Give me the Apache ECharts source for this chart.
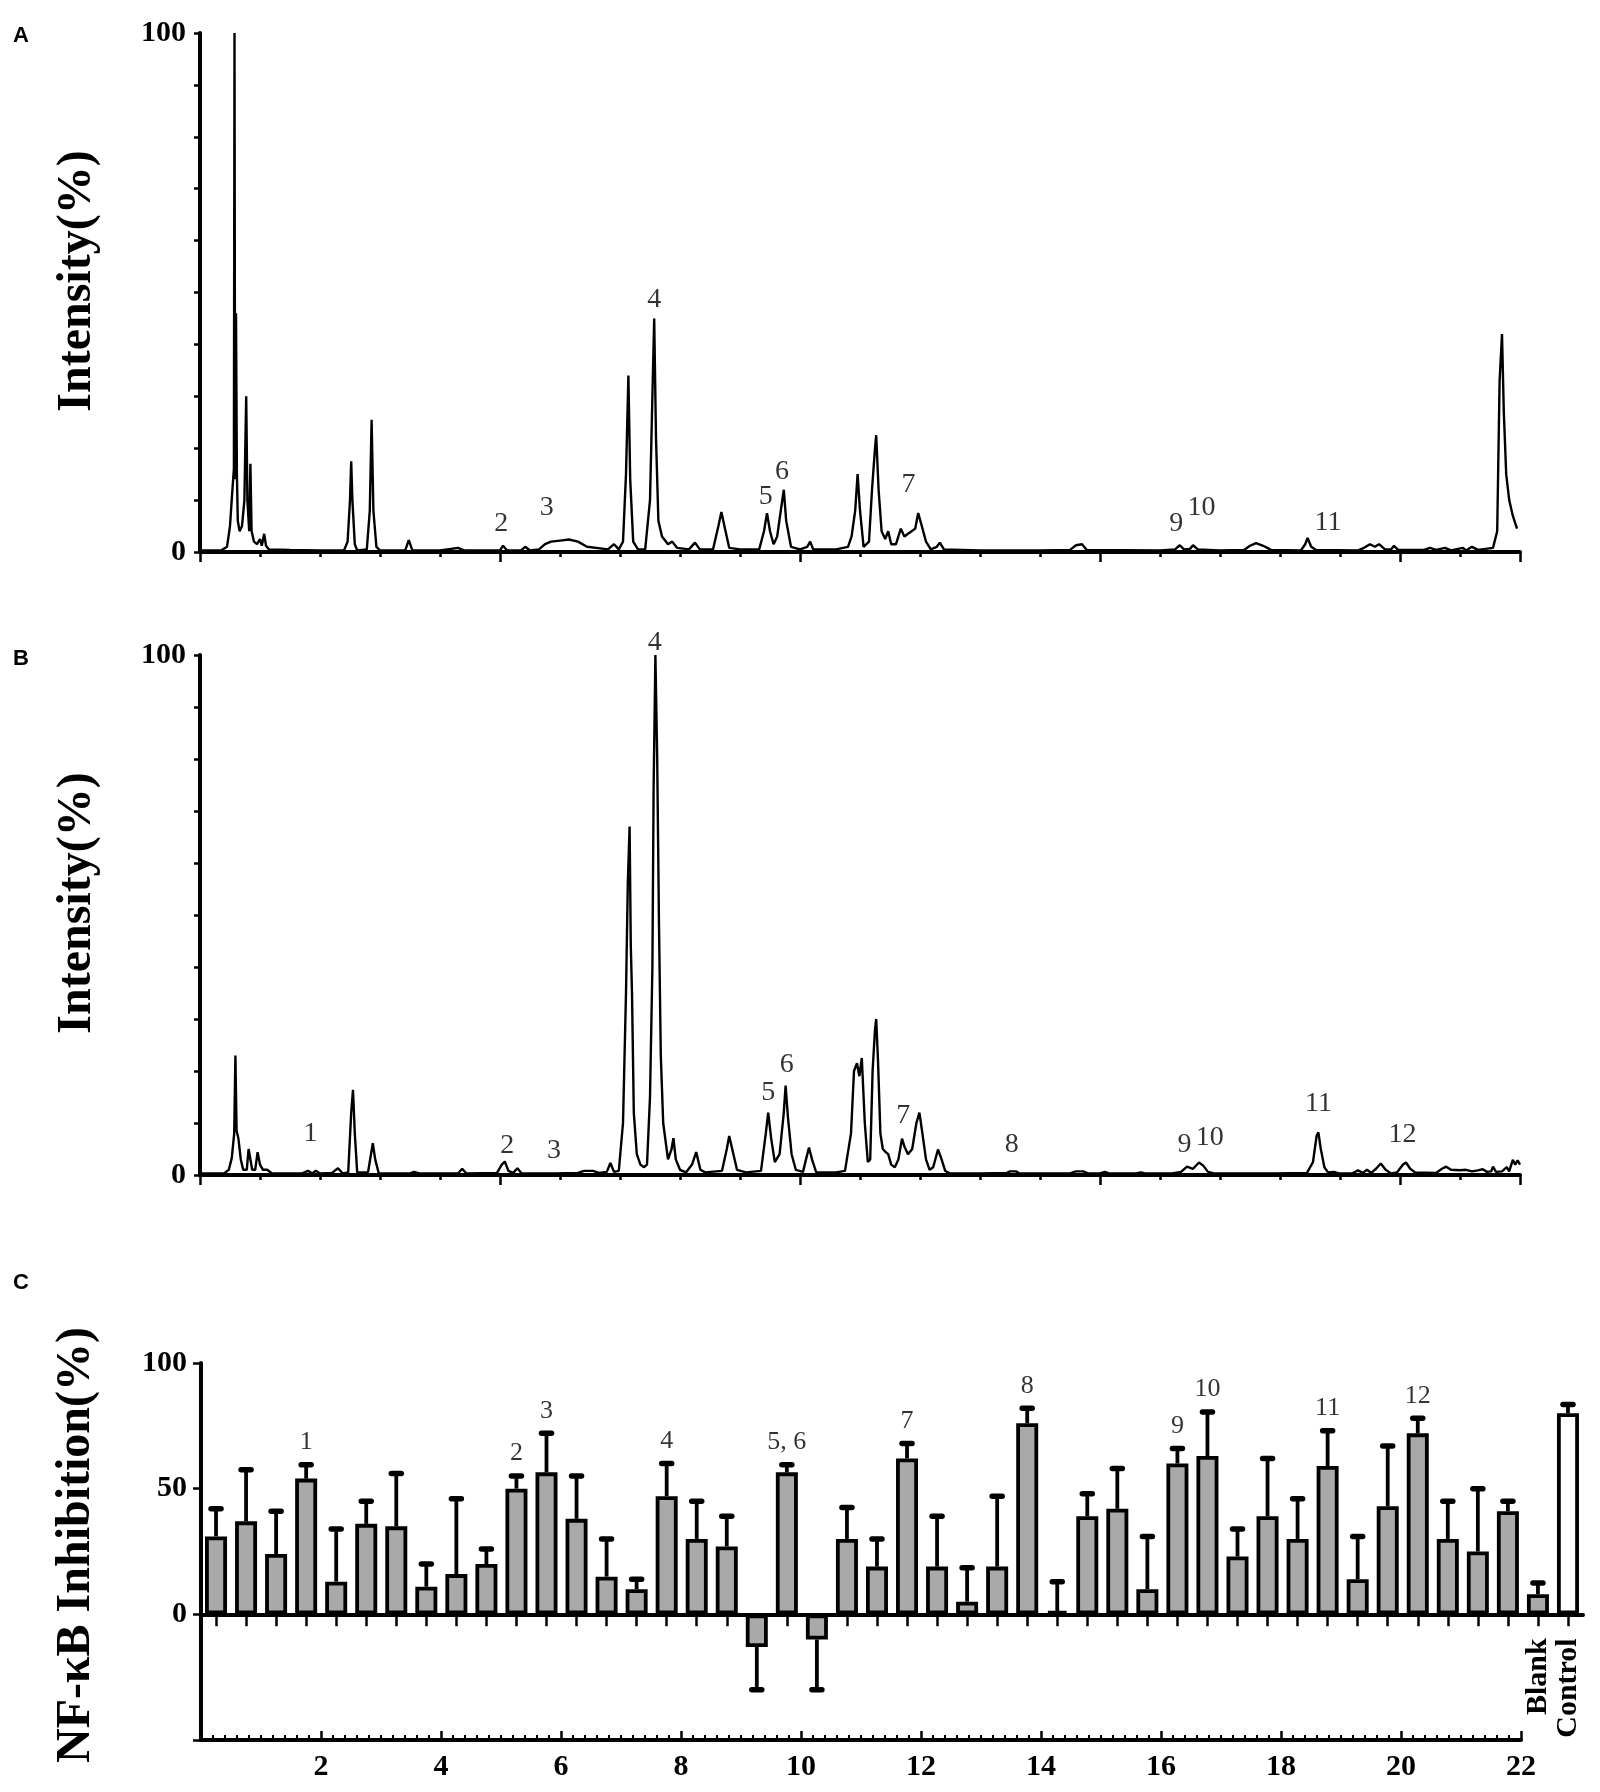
<!DOCTYPE html>
<html>
<head>
<meta charset="utf-8">
<script src="https://cdn.jsdelivr.net/npm/echarts@6/dist/echarts.min.js"></script>
<style>
html,body{margin:0;padding:0;background:#fff;}
#chart{width:1600px;height:1792px;}
</style>
</head>
<body>
<div id="chart"></div>
<script>
// ---------- Panel A chromatogram: [time (min), intensity (%)] ----------
var traceA = [[0,0.3],[0.35,0.3],[0.45,1],[0.5,5],[0.54,12],[0.565,16],[0.575,100],[0.585,14],[0.6,46],[0.615,15],[0.63,6],[0.66,4],[0.7,5],[0.74,10],[0.77,30],[0.79,10],[0.82,4],[0.84,17],[0.86,4],[0.9,2],[0.95,1.5],[1.0,2.5],[1.03,1.2],[1.07,3.5],[1.1,1.2],[1.15,0.5],[1.5,0.4],[2.0,0.3],[2.4,0.3],[2.46,2],[2.5,10],[2.52,17.5],[2.54,10],[2.58,1.5],[2.62,0.3],[2.78,0.5],[2.83,8],[2.86,25.5],[2.89,8],[2.94,1],[3.0,0.3],[3.42,0.3],[3.48,2.3],[3.54,0.3],[4.0,0.3],[4.3,0.8],[4.4,0.3],[5.0,0.3],[5.05,1.2],[5.12,0.3],[5.35,0.3],[5.42,1],[5.5,0.3],[5.65,0.5],[5.75,1.5],[5.85,2],[6.0,2.2],[6.15,2.4],[6.3,2],[6.45,1],[6.8,0.5],[6.9,1.5],[6.98,0.5],[7.05,2],[7.1,15],[7.14,34],[7.17,14],[7.22,2],[7.3,0.5],[7.42,0.5],[7.5,10],[7.54,30],[7.57,45],[7.6,22],[7.64,6],[7.7,3],[7.8,1.5],[7.87,2],[7.95,0.8],[8.15,0.5],[8.25,1.8],[8.33,0.5],[8.55,0.5],[8.64,5],[8.69,7.7],[8.74,5],[8.82,0.8],[9.0,0.5],[9.32,0.5],[9.4,4],[9.45,7.5],[9.5,4],[9.56,1.5],[9.62,3],[9.68,8],[9.73,12],[9.77,6],[9.85,1],[10.0,0.5],[10.12,1],[10.17,2],[10.22,0.5],[10.6,0.5],[10.8,1],[10.86,3],[10.92,8],[10.96,15],[11.0,8],[11.06,1],[11.15,2],[11.2,12],[11.25,20],[11.27,22.5],[11.31,12],[11.36,4],[11.42,2.5],[11.47,4],[11.52,1.5],[11.6,1.5],[11.68,4.5],[11.74,3],[11.8,3.5],[11.86,4],[11.92,4.5],[11.97,7.5],[12.03,5],[12.1,2],[12.18,0.5],[12.28,1],[12.33,1.8],[12.4,0.5],[13.0,0.3],[14.0,0.3],[14.5,0.4],[14.6,1.3],[14.7,1.5],[14.78,0.4],[16.0,0.3],[16.25,0.5],[16.33,1.3],[16.4,0.5],[16.5,0.6],[16.55,1.3],[16.63,0.5],[17.0,0.3],[17.4,0.4],[17.5,1.2],[17.6,1.7],[17.72,1.2],[17.85,0.4],[18.35,0.3],[18.42,1.5],[18.46,2.7],[18.52,1],[18.6,0.4],[19.3,0.3],[19.4,0.8],[19.5,1.5],[19.58,1],[19.65,1.5],[19.75,0.5],[19.85,0.5],[19.9,1.2],[19.97,0.4],[20.4,0.4],[20.5,0.8],[20.6,0.4],[20.75,0.8],[20.85,0.3],[21.05,0.8],[21.1,0.3],[21.2,1],[21.3,0.4],[21.55,0.8],[21.62,4],[21.66,33],[21.7,42],[21.73,27],[21.77,15],[21.82,10],[21.88,7],[21.95,4.5]];

// peak labels A: [time, height, text]
var labelsA = [[5.02,5.4,'2'],[5.78,8.6,'3'],[7.57,48.7,'4'],[9.43,10.6,'5'],[9.7,15.4,'6'],[11.81,12.9,'7'],[16.27,5.4,'9'],[16.69,8.5,'10'],[18.8,5.6,'11']];

// ---------- Panel B chromatogram ----------
var traceB = [[0,0.3],[0.4,0.3],[0.48,1],[0.53,3.3],[0.57,8],[0.59,23],[0.61,8.5],[0.64,7],[0.68,3],[0.72,1],[0.78,1],[0.81,5],[0.84,4.9],[0.87,1],[0.92,1],[0.96,4.4],[1.0,2],[1.05,1],[1.12,1],[1.2,0.3],[1.7,0.3],[1.8,0.8],[1.87,0.3],[1.93,0.8],[2.0,0.3],[2.2,0.4],[2.3,1.3],[2.38,0.3],[2.47,0.5],[2.52,12],[2.55,16.4],[2.58,8],[2.62,0.5],[2.8,0.5],[2.85,4],[2.88,6.1],[2.92,3],[2.98,0.3],[3.5,0.3],[3.57,0.6],[3.65,0.3],[4.3,0.3],[4.37,1.2],[4.44,0.3],[4.95,0.4],[5.03,2],[5.08,2.6],[5.14,0.8],[5.22,0.4],[5.29,1.3],[5.36,0.3],[5.9,0.3],[6.3,0.4],[6.4,0.8],[6.55,0.8],[6.65,0.4],[6.78,0.6],[6.84,2.3],[6.9,0.6],[6.98,0.8],[7.05,10],[7.1,35],[7.13,56],[7.16,67],[7.18,44],[7.2,35],[7.23,12],[7.28,4],[7.34,2],[7.4,1.5],[7.45,2],[7.5,15],[7.54,40],[7.56,74],[7.59,100],[7.62,80],[7.65,48],[7.68,23],[7.72,10],[7.8,3],[7.86,5],[7.89,7.1],[7.93,3],[8.0,1],[8.1,0.5],[8.2,2],[8.27,4.4],[8.34,1],[8.42,0.5],[8.7,0.8],[8.78,5],[8.82,7.5],[8.87,5],[8.95,1],[9.1,0.5],[9.35,0.8],[9.43,8],[9.47,12],[9.52,7],[9.58,2.5],[9.66,4],[9.73,12],[9.76,17.2],[9.8,11],[9.86,4],[9.93,1],[10.05,0.6],[10.1,3],[10.15,5.3],[10.2,3],[10.27,0.5],[10.6,0.5],[10.75,0.8],[10.85,8],[10.9,20],[10.95,21.5],[10.99,19],[11.03,22.5],[11.08,10],[11.13,2.5],[11.17,3],[11.21,20],[11.25,28],[11.27,30],[11.3,22],[11.34,8],[11.38,5],[11.42,4.5],[11.47,4],[11.52,2],[11.58,1.5],[11.64,3],[11.7,7],[11.74,5.5],[11.8,4],[11.87,5],[11.94,10],[11.99,12],[12.04,8],[12.1,3],[12.16,1],[12.22,1.5],[12.3,4.9],[12.36,3],[12.42,0.8],[12.5,0.3],[13.0,0.3],[13.45,0.4],[13.5,0.7],[13.6,0.7],[13.66,0.3],[14.5,0.3],[14.6,0.7],[14.72,0.7],[14.8,0.3],[15.0,0.3],[15.08,0.6],[15.15,0.3],[15.6,0.3],[15.68,0.5],[15.75,0.3],[16.2,0.3],[16.35,0.6],[16.45,1.6],[16.55,1.2],[16.65,2.4],[16.72,1.8],[16.8,0.6],[16.9,0.3],[17.5,0.3],[17.9,0.3],[18.45,0.4],[18.55,2.5],[18.61,7.5],[18.64,8.2],[18.68,5],[18.74,1.5],[18.8,0.5],[18.9,0.6],[18.98,0.3],[19.2,0.3],[19.3,0.9],[19.38,0.4],[19.45,1],[19.52,0.4],[19.6,1.2],[19.68,2.2],[19.76,1],[19.85,0.3],[19.95,0.5],[20.05,2],[20.1,2.4],[20.17,1.2],[20.25,0.5],[20.6,0.4],[20.7,1.2],[20.77,1.6],[20.85,1],[21.0,0.9],[21.1,1],[21.2,0.7],[21.3,0.9],[21.38,1.1],[21.45,0.6],[21.52,0.7],[21.55,1.6],[21.6,0.6],[21.7,0.7],[21.78,1.5],[21.82,0.7],[21.88,2.9],[21.92,2],[21.96,2.8],[22,2]];

var labelsB = [[1.84,7.9,'1'],[5.12,5.6,'2'],[5.9,4.6,'3'],[7.58,102.3,'4'],[9.47,15.8,'5'],[9.78,21.2,'6'],[11.72,11.5,'7'],[13.53,5.8,'8'],[16.41,5.8,'9'],[16.83,7.1,'10'],[18.64,13.8,'11'],[20.04,7.7,'12']];

// ---------- Panel C: NF-kB inhibition per fraction ----------
var fractions = [];
for (var k = 1; k <= 44; k++) fractions.push(String(k));
var categoriesC = fractions.concat(['Blank', 'Control']);
var inhibition = [31,37,24,54,13,36,35,11,16,20,50,56.5,38,15,10,47,30,27,-13,56.5,-10,30,19,62,19,5,19,76,1.3,39,42,10,60,63,23,39,30,59,14,43,72,30,25,41,8,80];
var errorEnd = [42,57.5,41,59.5,34,45,56,20,46,26,55,72,55,30,14,60,45,39,-30,59.5,-30,42.5,30,68,39,18.5,47,82,13,48,58,31,66,80.5,34,62,46,73,31,67,78,45,50,45,12.5,83.5];
// [fraction index (0-based), label]
var peakLabelsC = [[3,'1'],[10,'2'],[11,'3'],[15,'4'],[19,'5, 6'],[23,'7'],[27,'8'],[32,'9'],[33,'10'],[37,'11'],[40,'12']];
var controlNames = ['Blank', 'Control'];
var timeTicks = [0,2,4,6,8,10,12,14,16,18,20,22];

var SERIF = '"Liberation Serif","Times New Roman",serif';
var SANS = '"Liberation Sans",Arial,sans-serif';

function minorTimeAxis(grid){
  return {type:'value', gridIndex:grid, min:0, max:22, interval:1, position:'bottom',
    axisLine:{show:true, onZero:false, lineStyle:{color:'#000', width:4}},
    axisTick:{show:true, length:5, lineStyle:{color:'#000', width:2.5}},
    axisLabel:{show:false}, splitLine:{show:false}};
}
function majorTimeAxis(grid){
  return {type:'value', gridIndex:grid, min:0, max:22, interval:5, position:'bottom',
    axisLine:{show:false, onZero:false},
    axisTick:{show:true, length:10, lineStyle:{color:'#000', width:2.5}},
    axisLabel:{show:false}, splitLine:{show:false}};
}
function intensityAxis(grid){
  return {type:'value', gridIndex:grid, min:0, max:100, interval:10,
    axisLine:{show:true, lineStyle:{color:'#000', width:4}},
    axisTick:{show:true, length:6, lineStyle:{color:'#000', width:2.5}},
    axisLabel:{margin:14, color:'#000', fontFamily:SERIF, fontWeight:'bold', fontSize:30,
      formatter:function(v){ return (v===0||v===100) ? String(v) : ''; }},
    splitLine:{show:false}};
}
function labelScatter(data, xi, yi, size){
  return {type:'scatter', xAxisIndex:xi, yAxisIndex:yi, data:data, symbolSize:1, clip:false,
    itemStyle:{color:'rgba(0,0,0,0)'}, silent:true,
    label:{show:true, position:'inside', color:'#000', fontFamily:SERIF, fontSize:size,
      formatter:function(p){ return p.value[2]; }}};
}

var barData = inhibition.map(function(v, i){
  if (categoriesC[i] === 'Control') return {value:v, itemStyle:{color:'#ffffff'}};
  return v;
});
var errData = inhibition.map(function(v, i){ return [i, v, errorEnd[i]]; });
var cLabelData = peakLabelsC.map(function(d){ return [d[0], errorEnd[d[0]], d[1]]; });

var baseGraphic = [
  {type:'text', x:21, y:36, style:{text:'A', fontFamily:SANS, fontWeight:'bold', fontSize:22, fill:'#000', align:'center', verticalAlign:'middle'}},
  {type:'text', x:21, y:659, style:{text:'B', fontFamily:SANS, fontWeight:'bold', fontSize:22, fill:'#000', align:'center', verticalAlign:'middle'}},
  {type:'text', x:21, y:1283, style:{text:'C', fontFamily:SANS, fontWeight:'bold', fontSize:22, fill:'#000', align:'center', verticalAlign:'middle'}},
  {type:'text', x:78, y:281, rotation:Math.PI/2, style:{text:'Intensity(%)', fontFamily:SERIF, fontWeight:'bold', fontSize:48, fill:'#000', align:'center', verticalAlign:'middle'}},
  {type:'text', x:78, y:903, rotation:Math.PI/2, style:{text:'Intensity(%)', fontFamily:SERIF, fontWeight:'bold', fontSize:48, fill:'#000', align:'center', verticalAlign:'middle'}},
  {type:'text', x:77, y:1545, rotation:Math.PI/2, style:{text:'NF-κB Inhibition(%)', fontFamily:SERIF, fontWeight:'bold', fontSize:48, fill:'#000', align:'center', verticalAlign:'middle'}}
];

var option = {
  animation:false,
  backgroundColor:'#fff',
  grid:[
    {left:200, top:33, width:1320, height:519, outerBoundsMode:'none'},
    {left:200, top:655, width:1320, height:520, outerBoundsMode:'none'},
    {left:201, top:1363, width:1382, height:377, outerBoundsMode:'none'},
    {left:201, top:1363, width:1320, height:377, outerBoundsMode:'none'}
  ],
  xAxis:[
    minorTimeAxis(0), majorTimeAxis(0),
    minorTimeAxis(1), majorTimeAxis(1),
    {type:'category', gridIndex:2, data:categoriesC, boundaryGap:true,
      axisLine:{show:true, onZero:true, lineStyle:{color:'#000', width:4}},
      axisTick:{show:true, alignWithLabel:true, interval:0, length:12, lineStyle:{color:'#000', width:2.5}},
      axisLabel:{show:false},
      splitLine:{show:false}},
    {type:'value', gridIndex:3, min:0, max:22, interval:2, position:'bottom',
      axisLine:{show:true, onZero:false, lineStyle:{color:'#000', width:4}},
      axisTick:{show:true, inside:true, length:9, lineStyle:{color:'#000', width:2.5}},
      minorTick:{show:true, splitNumber:10, length:5, lineStyle:{color:'#000', width:2}},
      axisLabel:{margin:12, color:'#000', fontFamily:SERIF, fontWeight:'bold', fontSize:30,
        formatter:function(v){ return timeTicks.indexOf(v) > 0 ? String(v) : ''; }},
      splitLine:{show:false}}
  ],
  yAxis:[
    intensityAxis(0),
    intensityAxis(1),
    {type:'value', gridIndex:2, min:-50, max:100, interval:50,
      axisLine:{show:true, lineStyle:{color:'#000', width:4}},
      axisTick:{show:true, length:8, lineStyle:{color:'#000', width:2.5}},
      axisLabel:{margin:14, color:'#000', fontFamily:SERIF, fontWeight:'bold', fontSize:30,
        formatter:function(v){ return v >= 0 ? String(v) : ''; }},
      splitLine:{show:false}},
    {type:'value', gridIndex:3, min:0, max:1, show:false}
  ],
  series:[
    {type:'line', xAxisIndex:0, yAxisIndex:0, data:traceA, showSymbol:false, symbol:'none',
      lineStyle:{color:'#000', width:2.4}, z:3},
    labelScatter(labelsA, 0, 0, 28),
    {type:'line', xAxisIndex:2, yAxisIndex:1, data:traceB, showSymbol:false, symbol:'none',
      lineStyle:{color:'#000', width:2.4}, z:3},
    labelScatter(labelsB, 2, 1, 28),
    {type:'bar', xAxisIndex:4, yAxisIndex:2, data:barData, barWidth:22,
      itemStyle:{color:'#a9a9a9', borderColor:'#000', borderWidth:3.8}, z:3},
    {type:'custom', xAxisIndex:4, yAxisIndex:2, data:errData, encode:{x:0, y:[1,2]}, z:4,
      renderItem:function(params, api){
        var p0 = api.coord([api.value(0), api.value(1)]);
        var p1 = api.coord([api.value(0), api.value(2)]);
        var cap = 5;
        return {type:'group', children:[
          {type:'line', shape:{x1:p0[0], y1:p0[1], x2:p1[0], y2:p1[1]}, style:{stroke:'#000', lineWidth:3.8}},
          {type:'line', shape:{x1:p1[0]-cap, y1:p1[1], x2:p1[0]+cap, y2:p1[1]}, style:{stroke:'#000', lineWidth:5.5, lineCap:'round'}}
        ]};
      }},
    {type:'scatter', xAxisIndex:4, yAxisIndex:2, data:cLabelData, symbolSize:1, clip:false, silent:true,
      itemStyle:{color:'rgba(0,0,0,0)'},
      label:{show:true, position:'top', distance:9, color:'#000', fontFamily:SERIF, fontSize:26,
        formatter:function(p){ return p.value[2]; }}}
  ],
  graphic: baseGraphic
};

var chart = echarts.init(document.getElementById('chart'), null, {renderer:'canvas'});
chart.setOption(option);

// Rotated "Blank" / "Control" labels placed under the zero line at their bars
var extra = controlNames.map(function(name){
  var p = chart.convertToPixel({xAxisIndex:4, yAxisIndex:2}, [name, 0]);
  return {type:'text', x:p[0], y:p[1] + 24, rotation:Math.PI/2,
    style:{text:name, fontFamily:SERIF, fontWeight:'bold', fontSize:30, fill:'#000', align:'right', verticalAlign:'middle'}};
});
chart.setOption({graphic: baseGraphic.concat(extra)});
</script>
</body>
</html>
